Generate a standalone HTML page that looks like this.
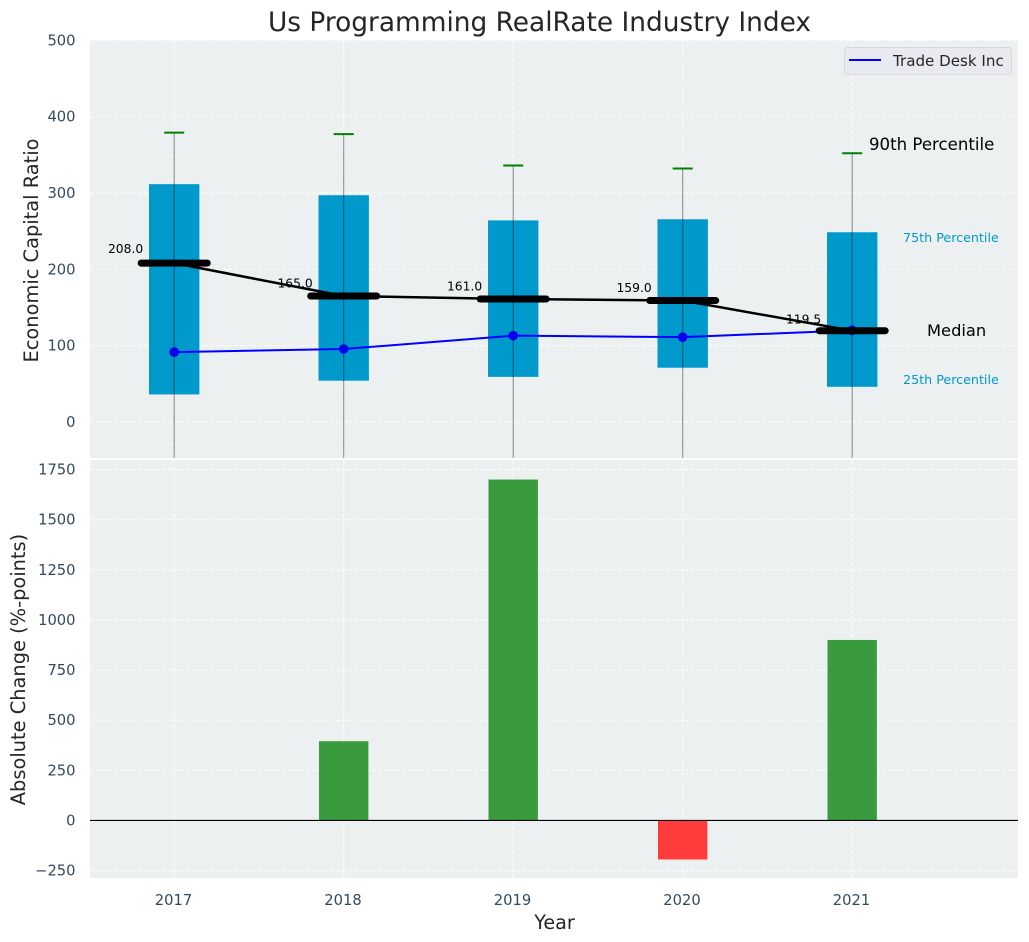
<!DOCTYPE html>
<html>
<head>
<meta charset="utf-8">
<title>Us Programming RealRate Industry Index</title>
<style>
html,body{margin:0;padding:0;background:#fff;width:1029px;height:942px;overflow:hidden}
svg{display:block;font-family:"DejaVu Sans","Liberation Sans",sans-serif}
</style>
</head>
<body>
<svg id="chart" xmlns="http://www.w3.org/2000/svg" width="1029" height="942" viewBox="0 0 1029 942">
<defs>
<clipPath id="clip-top"><rect x="90" y="40" width="928" height="418"/></clipPath>
<clipPath id="clip-bottom"><rect x="90" y="460" width="928" height="418"/></clipPath>
</defs>
<text x="539.5" y="31" text-anchor="middle" font-size="26.4" fill="#262626">Us Programming RealRate Industry Index</text>
<rect x="90" y="40" width="928" height="418" fill="#ecf0f1"/>
<rect x="90" y="460" width="928" height="418" fill="#ecf0f1"/>
<g id="top-grid" clip-path="url(#clip-top)"></g>
<g id="bottom-grid" clip-path="url(#clip-bottom)"></g>
<g id="top-marks" clip-path="url(#clip-top)"></g>
<g id="bottom-marks" clip-path="url(#clip-bottom)"></g>
<g id="axis-labels"></g>
<text transform="translate(38,250.5) rotate(-90)" text-anchor="middle" font-size="19.4" fill="#262626">Economic Capital Ratio</text>
<text transform="translate(25,669.5) rotate(-90)" text-anchor="middle" font-size="19.4" fill="#262626">Absolute Change (%-points)</text>
<text x="554.5" y="929" text-anchor="middle" font-size="19.2" fill="#262626">Year</text>
<text x="869" y="150" font-size="16.6" fill="#000">90th Percentile</text>
<text x="903" y="242" font-size="12.7" fill="#0099cc">75th Percentile</text>
<text x="927" y="336" font-size="16.3" fill="#000">Median</text>
<text x="903" y="384" font-size="12.7" fill="#0099cc">25th Percentile</text>
<g>
<rect x="844.5" y="47.5" width="167" height="27" rx="3" fill="#e8eaf0" stroke="#d6d8dc"/>
<line x1="849" y1="60" x2="881" y2="60" stroke="#0000ff" stroke-width="2"/>
<text x="893" y="66" font-size="15.1" fill="#262626">Trade Desk Inc</text>
</g>
<script>
const years = [2017, 2018, 2019, 2020, 2021];
const p90 = [379, 377, 336, 332, 352];
const p75 = [311.5, 297, 264, 265.5, 248.5];
const medians = [208, 165, 161, 159, 119.5];
const p25 = [36, 54, 59, 71, 46];
const p10 = [-60, -60, -60, -60, -60];
const tradeDesk = [91.5, 95.5, 113, 111, 120];
const absoluteChange = [0, 395, 1700, -195, 900];
const topTicks = [0, 100, 200, 300, 400, 500];
const bottomTicks = [-250, 0, 250, 500, 750, 1000, 1250, 1500, 1750];

const NS = 'http://www.w3.org/2000/svg';
const xScale = function (year) { return 174.2 + (year - 2017) * 169.5; };
const yTop = function (v) { return 421.9 - v * 0.7632; };
const yBottom = function (v) { return 820.4 - v * 0.2005; };
const BOX_HALF = 25.2;
const CAP_HALF = 10;
const MEDIAN_HALF = 33;

function make(parent, tag, props) {
  const el = document.createElementNS(NS, tag);
  Object.keys(props).forEach(function (k) { el.setAttribute(k, props[k]); });
  parent.appendChild(el);
  return el;
}
const topGrid = document.getElementById('top-grid');
const bottomGrid = document.getElementById('bottom-grid');
const topMarks = document.getElementById('top-marks');
const bottomMarks = document.getElementById('bottom-marks');
const axisLabels = document.getElementById('axis-labels');
const gridStyle = { stroke: '#ffffff', 'stroke-width': 1.1, 'stroke-dasharray': '4 2', opacity: 0.85 };
const tickFill = '#34495e';

topTicks.forEach(function (t) {
  const y = yTop(t);
  const g = make(topGrid, 'line', Object.assign({ x1: 90, x2: 1018, y1: y, y2: y }, gridStyle));
  
  
  const l = make(axisLabels, 'text', { x: 75.5, y: y + 5, 'text-anchor': 'end', 'font-size': 14.7, fill: tickFill });
  l.textContent = String(t);
  
  
});
bottomTicks.forEach(function (t) {
  const y = yBottom(t);
  const g = make(bottomGrid, 'line', Object.assign({ x1: 90, x2: 1018, y1: y, y2: y }, gridStyle));
  
  
  const l = make(axisLabels, 'text', { x: 75.5, y: y + 5, 'text-anchor': 'end', 'font-size': 14.7, fill: tickFill });
  l.textContent = String(t).replace('-', '\u2212');
  
  
});
years.forEach(function (yr) {
  const x = xScale(yr);
  const a = make(topGrid, 'line', Object.assign({ x1: x, x2: x, y1: 40, y2: 458 }, gridStyle));
  
  
  const b = make(bottomGrid, 'line', Object.assign({ x1: x, x2: x, y1: 460, y2: 878 }, gridStyle));
  
  
  const l = make(axisLabels, 'text', { x: x - 0.7, y: 905, 'text-anchor': 'middle', 'font-size': 14.7, fill: tickFill });
  l.textContent = String(yr);
  
  
});

years.forEach(function (yr, i) {
  const x = xScale(yr);
  const box = make(topMarks, 'rect', { x: x - BOX_HALF, y: yTop(p75[i]), width: BOX_HALF * 2, height: yTop(p25[i]) - yTop(p75[i]), fill: '#0099cc' });
  
  
});

const tradePts = years.map(function (yr, i) { return xScale(yr) + ',' + yTop(tradeDesk[i]); }).join(' ');
const tradeLine = make(topMarks, 'polyline', { points: tradePts, fill: 'none', stroke: '#0000ff', 'stroke-width': 2 });


years.forEach(function (yr, i) {
  const dot = make(topMarks, 'circle', { cx: xScale(yr), cy: yTop(tradeDesk[i]), r: 4.8, fill: '#0000ff' });
  
  
});

years.forEach(function (yr, i) {
  const x = xScale(yr);
  const w = make(topMarks, 'line', { x1: x, x2: x, y1: yTop(p90[i]), y2: yTop(p10[i]), stroke: '#000', 'stroke-opacity': 0.42, 'stroke-width': 1.1 });
  
  
  const c = make(topMarks, 'line', { x1: x - CAP_HALF, x2: x + CAP_HALF, y1: yTop(p90[i]), y2: yTop(p90[i]), stroke: '#008000', 'stroke-width': 2 });
  
  
});

const medianPts = years.map(function (yr, i) { return xScale(yr) + ',' + yTop(medians[i]); }).join(' ');
const medianLine = make(topMarks, 'polyline', { points: medianPts, fill: 'none', stroke: '#000', 'stroke-width': 2.5 });


years.forEach(function (yr, i) {
  const x = xScale(yr);
  const y = yTop(medians[i]);
  const m = make(topMarks, 'line', { x1: x - MEDIAN_HALF, x2: x + MEDIAN_HALF, y1: y, y2: y, stroke: '#000', 'stroke-width': 7, 'stroke-linecap': 'round' });
  
  
  const l = make(topMarks, 'text', { x: x - 31, y: yTop(medians[i] * 1.043) - 3.2, 'text-anchor': 'end', 'font-size': 12.3, fill: '#000' });
  l.textContent = medians[i].toFixed(1);
  
  
});

years.forEach(function (yr, i) {
  const x = xScale(yr);
  const v = absoluteChange[i];
  if (v === 0) { return; }
  const top = Math.min(yBottom(v), yBottom(0));
  const h = Math.abs(yBottom(v) - yBottom(0));
  const b = make(bottomMarks, 'rect', { x: x - 24.7, y: top, width: 49.4, height: h, fill: v >= 0 ? '#3a9b3e' : '#ff3b3b' });
  
  
});
const zero = make(bottomMarks, 'line', { x1: 90, x2: 1018, y1: yBottom(0), y2: yBottom(0), stroke: '#000', 'stroke-width': 1.1 });


</script>
</svg>
</body>
</html>
